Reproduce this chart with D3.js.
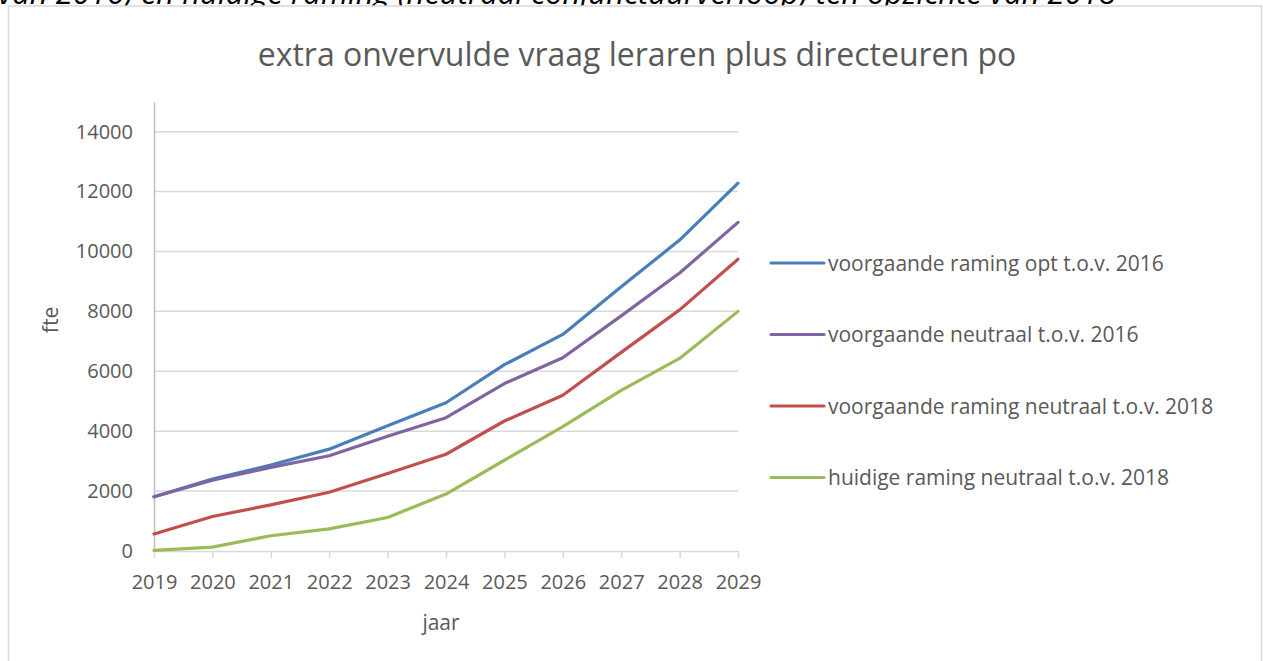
<!DOCTYPE html>
<html>
<head>
<meta charset="utf-8">
<script src="https://cdn.jsdelivr.net/npm/d3@7"></script>
<style>
  body { margin: 0; background: #fff; }
  svg { display: block; font-family: "Open Sans", sans-serif; }
</style>
</head>
<body>
<svg id="chart" width="1263" height="661"></svg>
<script>
// chart data
const years = [2019, 2020, 2021, 2022, 2023, 2024, 2025, 2026, 2027, 2028, 2029];
const seriesNames = [
  'voorgaande raming opt t.o.v. 2016',
  'voorgaande neutraal t.o.v. 2016',
  'voorgaande raming neutraal t.o.v. 2018',
  'huidige raming neutraal t.o.v. 2018'
];
const optPrev2016 = [1810, 2400, 2870, 3400, 4180, 4950, 6220, 7230, 8820, 10380, 12280];
const neutralPrev2016 = [1810, 2360, 2790, 3180, 3830, 4450, 5590, 6450, 7850, 9280, 10970];
const neutralPrev2018 = [570, 1150, 1540, 1960, 2590, 3230, 4340, 5200, 6630, 8050, 9740];
const currentNeutral2018 = [20, 130, 510, 740, 1120, 1900, 3030, 4150, 5360, 6430, 8000];
const yTicks = [0, 2000, 4000, 6000, 8000, 10000, 12000, 14000];
const colors = ['#4a7ebb', '#8064a2', '#c0504d', '#9bbb59'];

const allSeries = [optPrev2016, neutralPrev2016, neutralPrev2018, currentNeutral2018];

const FONT = '"Open Sans", sans-serif';
const svg = d3.select('#chart');

// clipped caption line from the surrounding document
svg.append('text')
  .attr('x', -2)
  .attr('y', 4)
  .style('font', 'italic 31px ' + FONT)
  .style('fill', '#000')
  .text('van 2016) en huidige raming (neutraal conjunctuurverloop) ten opzichte van 2018');

// chart area frame
svg.append('rect')
  .attr('x', 8.5)
  .attr('y', 6)
  .attr('width', 1253)
  .attr('height', 670)
  .style('fill', '#fff')
  .style('stroke', '#d9d9d9')
  .style('stroke-width', 1.5);

const x = d3.scalePoint().domain(years).range([154, 738]);
const y = d3.scaleLinear().domain([0, 15000]).range([551, 101.7]);

// gridlines
svg.append('g')
  .selectAll('line')
  .data(yTicks.filter(d => d > 0))
  .enter().append('line')
  .attr('x1', 154).attr('x2', 738)
  .attr('y1', d => y(d)).attr('y2', d => y(d))
  .style('stroke', '#d9d9d9')
  .style('stroke-width', 1.5);

// y axis
const yAxis = svg.append('g')
  .attr('transform', 'translate(154,0)')
  .call(d3.axisLeft(y).tickValues(yTicks).tickFormat(d3.format('d')).tickSize(0).tickPadding(21));
yAxis.select('.domain').style('stroke', '#bfbfbf').style('stroke-width', 1.5);
yAxis.selectAll('text')
  .style('font', '20px ' + FONT)
  .style('fill', '#595959');

// x axis
const xAxis = svg.append('g')
  .attr('transform', 'translate(0,551)')
  .call(d3.axisBottom(x).tickFormat(d3.format('d')).tickSizeInner(7).tickSizeOuter(0).tickPadding(17));
xAxis.select('.domain').style('stroke', '#d9d9d9').style('stroke-width', 1.5);
xAxis.selectAll('line').style('stroke', '#d9d9d9').style('stroke-width', 1.5);
xAxis.selectAll('text')
  .style('font', '20px ' + FONT)
  .style('fill', '#595959');

// series lines
const line = d3.line()
  .x((d, i) => x(years[i]))
  .y(d => y(d));

svg.append('g')
  .selectAll('path')
  .data(allSeries)
  .enter().append('path')
  .attr('d', line)
  .style('fill', 'none')
  .style('stroke', (d, i) => colors[i])
  .style('stroke-width', 3.2)
  .style('stroke-linejoin', 'round')
  .style('stroke-linecap', 'round');

// title
svg.append('text')
  .attr('x', 637)
  .attr('y', 66)
  .attr('text-anchor', 'middle')
  .style('font', '32px ' + FONT)
  .style('fill', '#595959')
  .text('extra onvervulde vraag leraren plus directeuren po');

// axis titles
svg.append('text')
  .attr('transform', 'translate(58,320) rotate(-90)')
  .attr('text-anchor', 'middle')
  .style('font', '21px ' + FONT)
  .style('fill', '#595959')
  .text('fte');

svg.append('text')
  .attr('x', 441)
  .attr('y', 630)
  .attr('text-anchor', 'middle')
  .style('font', '21px ' + FONT)
  .style('fill', '#595959')
  .text('jaar');

// legend
const legend = svg.append('g')
  .selectAll('g')
  .data(seriesNames)
  .enter().append('g')
  .attr('transform', (d, i) => 'translate(771,' + (263 + i * 71.5) + ')');

legend.append('line')
  .attr('x1', 0).attr('x2', 53)
  .style('stroke', (d, i) => colors[i])
  .style('stroke-width', 3.2)
  .style('stroke-linecap', 'round');

legend.append('text')
  .attr('x', 57)
  .attr('y', 7.5)
  .style('font', '21px ' + FONT)
  .style('fill', '#595959')
  .text(d => d);
</script>
</body>
</html>
